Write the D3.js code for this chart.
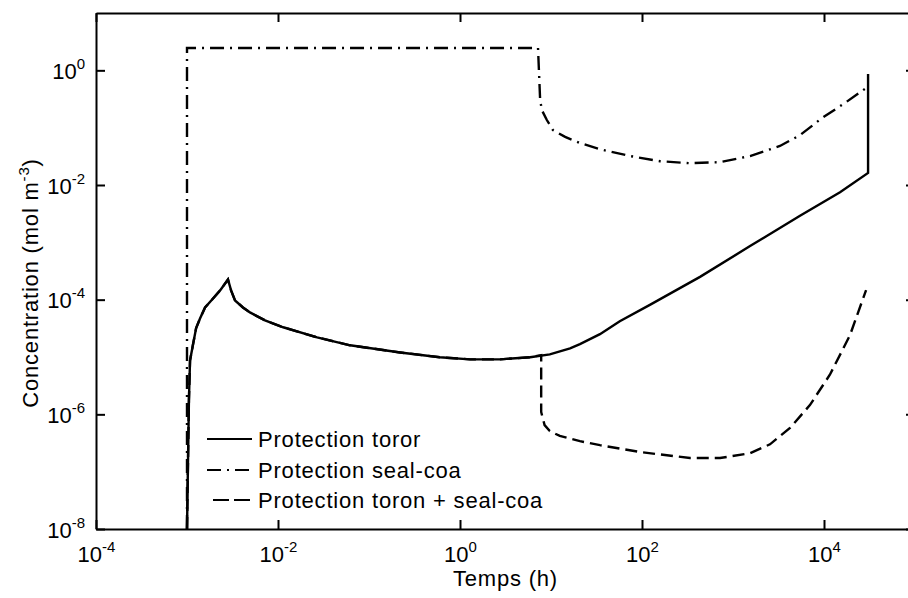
<!DOCTYPE html>
<html><head><meta charset="utf-8">
<script src="https://cdn.jsdelivr.net/npm/d3@7"></script>
<style>body{margin:0;background:#fff}svg{display:block}text{font-family:"Liberation Sans",Arial,sans-serif;fill:#000}</style>
</head><body><svg id="c" width="908" height="598"></svg>
<script>
// ---- data ----
const xTicks = [1e-4, 1e-2, 1e0, 1e2, 1e4];
const yTicks = [1e-8, 1e-6, 1e-4, 1e-2, 1e0];
const xTickExp = ["-4", "-2", "0", "2", "4"];
const yTickExp = ["-8", "-6", "-4", "-2", "0"];
const seriesNames = ["Protection toror", "Protection seal-coa", "Protection toron + seal-coa"];

const toronT = [1.0e-3,1.05e-3,1.08e-3,1.16e-3,1.26e-3,1.39e-3,1.58e-3,1.88e-3,2.31e-3,2.82e-3,3.05e-3,3.37e-3,4.12e-3,4.92e-3,7.2e-3,1.14e-2,2.69e-2,6.2e-2,0.22,0.60,1.29,2.75,5.9,9.7,16.2,20.8,34.5,57,122,434,1540,5450,15000,30500,30500];
const toronC = [1e-8,1.76e-6,8.7e-6,1.6e-5,3.2e-5,4.7e-5,7.3e-5,1.0e-4,1.45e-4,2.25e-4,1.45e-4,9.7e-5,7.3e-5,6.0e-5,4.35e-5,3.3e-5,2.2e-5,1.6e-5,1.2e-5,9.9e-6,9.1e-6,9.1e-6,9.9e-6,1.11e-5,1.41e-5,1.68e-5,2.5e-5,4.2e-5,8.1e-5,2.5e-4,8.6e-4,2.9e-3,7.5e-3,1.62e-2,0.86];

const sealT = [1.0e-3,1.0e-3,7.2,7.6,7.96,9.0,10.5,14.3,20.8,34.5,74,158,337,720,1540,3280,5450,9500,17000,29000];
const sealC = [1e-8,2.45,2.45,0.30,0.20,0.136,0.091,0.069,0.054,0.042,0.032,0.026,0.024,0.025,0.032,0.048,0.074,0.147,0.27,0.49];

const bothT = [1.0e-3,1.05e-3,1.08e-3,1.16e-3,1.26e-3,1.39e-3,1.58e-3,1.88e-3,2.31e-3,2.82e-3,3.05e-3,3.37e-3,4.12e-3,4.92e-3,7.2e-3,1.14e-2,2.69e-2,6.2e-2,0.22,0.60,1.29,2.75,5.9,7.8,7.8,8.5,9.7,12.5,20.8,34.5,95,337,720,1540,2550,4230,7000,11600,19300,29000];
const bothC = [1e-8,1.76e-6,8.7e-6,1.6e-5,3.2e-5,4.7e-5,7.3e-5,1.0e-4,1.45e-4,2.25e-4,1.45e-4,9.7e-5,7.3e-5,6.0e-5,4.35e-5,3.3e-5,2.2e-5,1.6e-5,1.2e-5,9.9e-6,9.1e-6,9.1e-6,9.9e-6,1.08e-5,1.1e-6,6.5e-7,5.1e-7,4.2e-7,3.4e-7,2.9e-7,2.2e-7,1.73e-7,1.73e-7,2.1e-7,3.0e-7,5.8e-7,1.45e-6,4.9e-6,2.4e-5,1.47e-4];

// ---- layout ----
const L = 96, R = 915, T = 13, B = 529;
const FONT = 22, SUP = 15, LS = 0.8;
const svg = d3.select("#c");
const x = d3.scaleLog().domain([1e-4, 1e5]).range([L, R]);
const y = d3.scaleLog().domain([1e-8, 1e1]).range([B, T]);

svg.append("defs").append("clipPath").attr("id","clip")
  .append("rect").attr("x",L).attr("y",T).attr("width",R-L).attr("height",B-T);

const line = d3.line().x(d => x(d[0])).y(d => y(d[1]));
const zip = (a,b) => a.map((v,i)=>[v,b[i]]);

const styles = [
  {data: zip(bothT, bothC), dash: "12,6"},
  {data: zip(toronT, toronC), dash: null},
  {data: zip(sealT, sealC), dash: "14,6,2,6"}
];
const gLines = svg.append("g").attr("clip-path","url(#clip)");
styles.forEach(s => {
  gLines.append("path").attr("d", line(s.data)).attr("fill","none")
    .attr("stroke","#000").attr("stroke-width",2.4)
    .attr("stroke-dasharray", s.dash);
});

// ---- axes ----
function styleAxis(g){
  g.select(".domain").attr("stroke","#000").attr("stroke-width",2);
  g.selectAll(".tick line").attr("stroke","#000").attr("stroke-width",2);
}
const gx = svg.append("g").attr("transform",`translate(0,${B})`)
  .call(d3.axisBottom(x).tickValues(xTicks).tickSizeInner(-9).tickSizeOuter(0).tickFormat(""));
styleAxis(gx);
gx.selectAll(".tick text").remove();
gx.selectAll(".tick").each(function(d,i){
  const t = d3.select(this).append("text").attr("y",33).attr("text-anchor","middle").attr("font-size",FONT).attr("fill","#000");
  t.append("tspan").text("10");
  t.append("tspan").attr("dy",-10).attr("font-size",SUP).text(xTickExp[i]);
});
const gxt = svg.append("g").attr("transform",`translate(0,${T})`)
  .call(d3.axisTop(x).tickValues(xTicks).tickSizeInner(-9).tickSizeOuter(0).tickFormat(""));
styleAxis(gxt);

const gy = svg.append("g").attr("transform",`translate(${L},0)`)
  .call(d3.axisLeft(y).tickValues(yTicks).tickSizeInner(-9).tickSizeOuter(0).tickFormat(""));
styleAxis(gy);
gy.selectAll(".tick text").remove();
gy.selectAll(".tick").each(function(d,i){
  const t = d3.select(this).append("text").attr("x",-11).attr("y",8).attr("text-anchor","end").attr("font-size",FONT).attr("fill","#000");
  t.append("tspan").text("10");
  t.append("tspan").attr("dy",-10).attr("font-size",SUP).text(yTickExp[i]);
});
const gyr = svg.append("g").attr("transform",`translate(${R},0)`)
  .call(d3.axisRight(y).tickValues(yTicks).tickSizeInner(-9).tickSizeOuter(0).tickFormat(""));
styleAxis(gyr);

// ---- axis labels ----
svg.append("text").attr("x",(L+R)/2).attr("y",586).attr("text-anchor","middle")
  .attr("font-size",FONT).attr("letter-spacing",LS).text("Temps (h)");
const yl = svg.append("text").attr("transform",`translate(38,${(T+B)/2 + 12}) rotate(-90)`)
  .attr("text-anchor","middle").attr("font-size",FONT).attr("letter-spacing",LS);
yl.append("tspan").text("Concentration (mol m");
yl.append("tspan").attr("dy",-9).attr("font-size",SUP).text("-3");
yl.append("tspan").attr("dy",9).text(")");

// ---- legend ----
const legY = [439, 470, 500];
const legDash = [null, "14,6,2,6", "16,5"];
const legX0 = [207, 207, 213];
seriesNames.forEach((n,i) => {
  svg.append("line").attr("x1",legX0[i]).attr("x2",252).attr("y1",legY[i]).attr("y2",legY[i])
    .attr("stroke","#000").attr("stroke-width",2.2).attr("stroke-dasharray",legDash[i]);
  svg.append("text").attr("x",258).attr("y",legY[i]+8).attr("font-size",FONT).attr("letter-spacing",LS).text(n);
});
</script></body></html>
